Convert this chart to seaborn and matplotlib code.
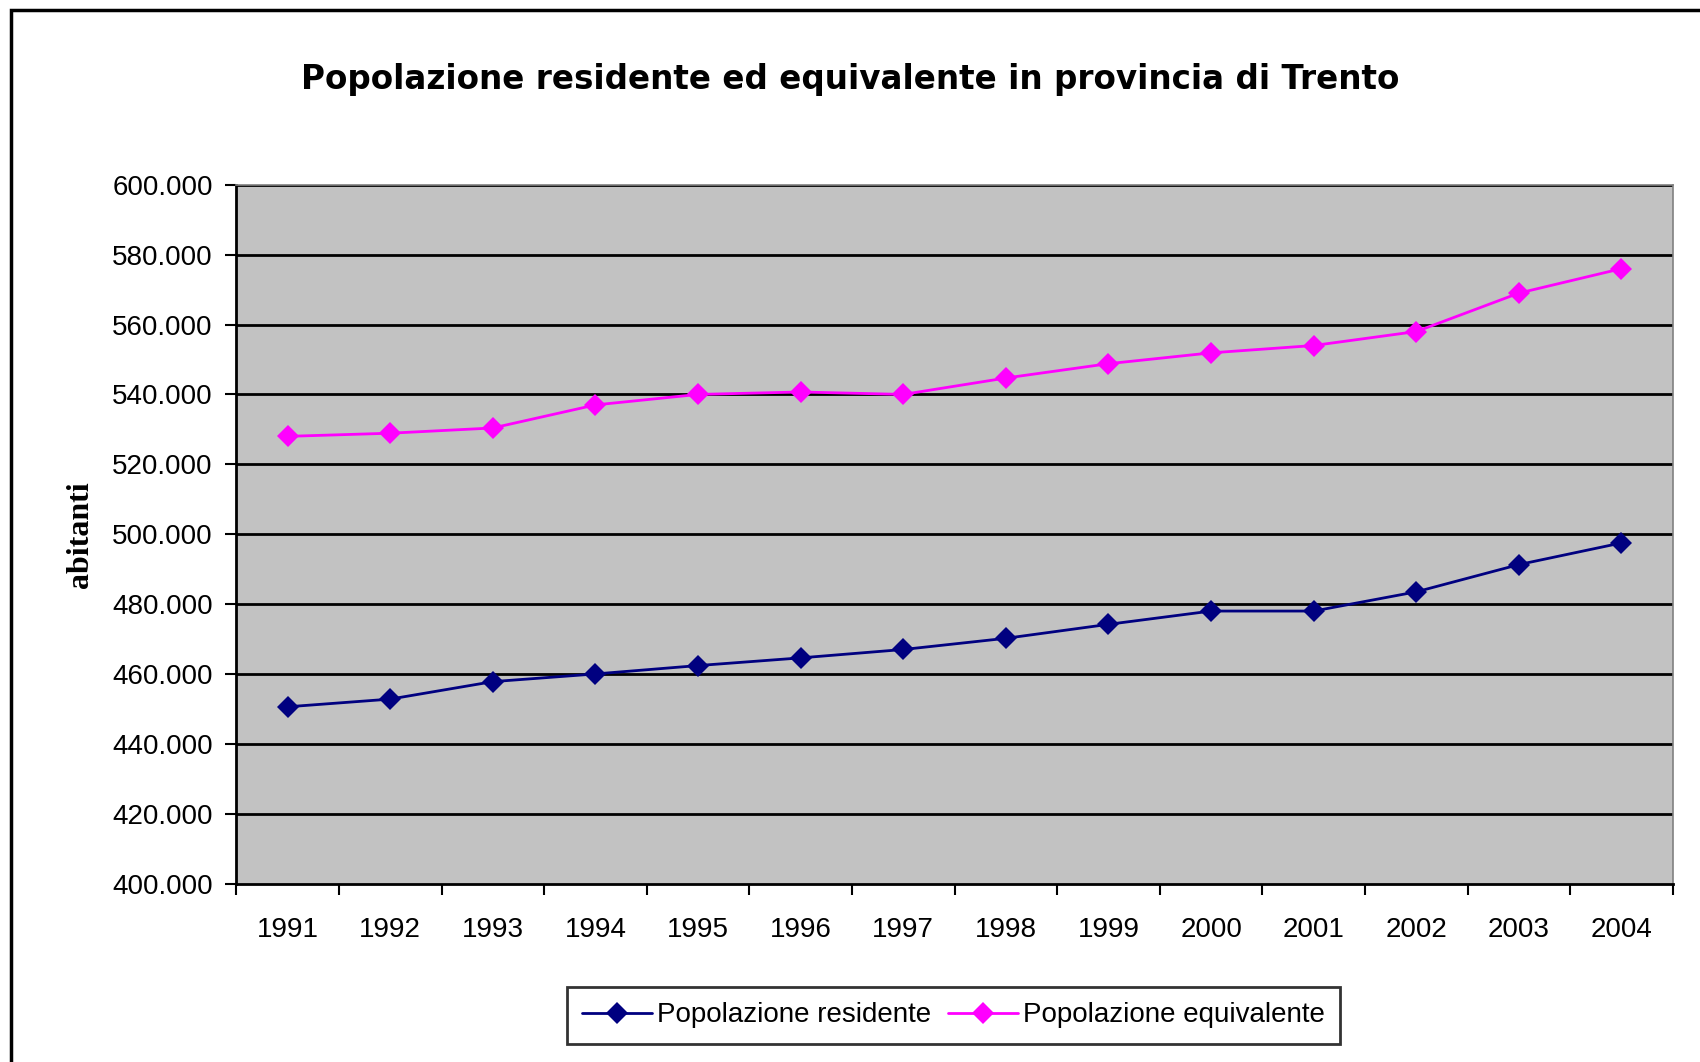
import numpy as np
import pandas as pd
import matplotlib
matplotlib.use('Agg')
import matplotlib.pyplot as plt
from matplotlib.patches import Rectangle
from matplotlib.ticker import FuncFormatter, FixedLocator
import seaborn as sns

# data
anni = [1991, 1992, 1993, 1994, 1995, 1996, 1997,
        1998, 1999, 2000, 2001, 2002, 2003, 2004]
residente = [450600, 452800, 457800, 460000, 462400, 464600, 467000,
             470200, 474200, 478000, 478000, 483500, 491300, 497500]
equivalente = [528000, 528900, 530400, 537000, 540000, 540700, 540000,
               544700, 548800, 551900, 554000, 558000, 569000, 576000]
serie = ['Popolazione residente', 'Popolazione equivalente']
colori = ['#000080', '#FF00FF']

df = pd.DataFrame({
    'anno': anni * 2,
    'abitanti': residente + equivalente,
    'serie': [serie[0]] * len(anni) + [serie[1]] * len(anni),
})

sns.set_style('white')
plt.rcParams['font.family'] = ['Liberation Sans', 'DejaVu Sans']
plt.rcParams['text.color'] = 'black'
plt.rcParams['xtick.color'] = 'black'
plt.rcParams['ytick.color'] = 'black'
plt.rcParams['axes.labelcolor'] = 'black'

fig = plt.figure(figsize=(17, 10.62), dpi=100)
ax = fig.add_axes([0.139, 0.168, 0.845, 0.658])
ax.set_facecolor('#C2C2C2')

# horizontal grid lines (black, Excel style)
for v in range(420000, 600001, 20000):
    ax.axhline(v, color='black', lw=2, zorder=1)

sns.lineplot(data=df, x='anno', y='abitanti', hue='serie', hue_order=serie,
             palette=colori, marker='D', markersize=11, markeredgewidth=0,
             linewidth=2, dashes=False, ax=ax, zorder=3)

ax.set_xlim(1990.5, 2004.5)
ax.set_ylim(400000, 600000)

# y axis
ax.set_yticks(range(400000, 600001, 20000))
ax.yaxis.set_major_formatter(FuncFormatter(lambda v, p: f'{int(v):,}'.replace(',', '.')))
ax.tick_params(axis='y', which='major', direction='out', length=8, width=1.5,
               color='black', labelsize=20, pad=9, left=True)

# x axis: labels at categories, ticks between categories
ax.set_xticks(anni)
ax.set_xticklabels([str(a) for a in anni])
ax.xaxis.set_minor_locator(FixedLocator(np.arange(1990.5, 2005, 1.0)))
ax.tick_params(axis='x', which='major', length=0, labelsize=20, pad=24)
ax.tick_params(axis='x', which='minor', direction='out', length=8, width=1.5,
               color='black', bottom=True)

for side in ['left', 'bottom']:
    ax.spines[side].set_color('black')
    ax.spines[side].set_linewidth(2)
for side in ['top', 'right']:
    ax.spines[side].set_color('#808080')
    ax.spines[side].set_linewidth(1.2)

ax.set_xlabel('')
ax.set_ylabel('abitanti', fontsize=23, fontweight='bold',
              family=['Liberation Serif', 'DejaVu Serif'], labelpad=12)

fig.text(0.5, 0.925, 'Popolazione residente ed equivalente in provincia di Trento',
         ha='center', va='center', fontsize=23.5, fontweight='bold',
         family=['DejaVu Sans'], color='black')

handles, labels = ax.get_legend_handles_labels()
ax.get_legend().remove()
leg = fig.legend(handles, labels, loc='center', bbox_to_anchor=(0.561, 0.044),
                 ncol=2, fontsize=20, frameon=True, fancybox=False,
                 edgecolor='black', handlelength=2.5, handletextpad=0.2,
                 columnspacing=0.6, borderpad=0.55)
leg.get_frame().set_linewidth(2)

# outer chart border (runs off the right and bottom of the image)
fig.patches.append(Rectangle((0.0065, -0.1), 1.2, 0.9906 + 0.1,
                             transform=fig.transFigure, fill=False,
                             edgecolor='black', linewidth=2.5))

fig.savefig('out.png', dpi=100)
